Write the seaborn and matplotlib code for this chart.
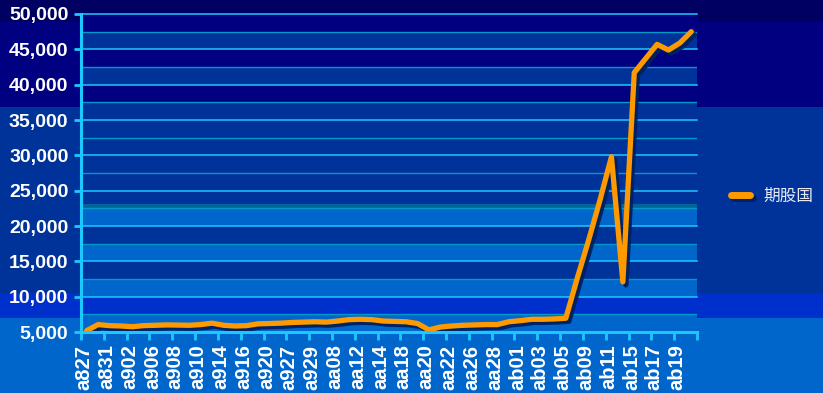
import numpy as np
import pandas as pd
import matplotlib
matplotlib.use("Agg")
import matplotlib.pyplot as plt
import matplotlib.patheffects as pe
from matplotlib.patches import Rectangle
from matplotlib.ticker import FuncFormatter, FixedLocator
import seaborn as sns

# ---------------- data ----------------
dates = ["a827", "a830", "a831", "a901", "a902", "a903", "a906", "a907", "a908", "a909",
         "a910", "a913", "a914", "a915", "a916", "a917", "a920", "a921", "a927", "a928",
         "a929", "a930", "aa08", "aa11", "aa12", "aa13", "aa14", "aa15", "aa18", "aa19",
         "aa20", "aa21", "aa22", "aa25", "aa26", "aa27", "aa28", "aa29", "ab01", "ab02",
         "ab03", "ab04", "ab05", "ab08", "ab09", "ab10", "ab11", "ab12", "ab15", "ab16",
         "ab17", "ab18", "ab19", "ab22"]
values = [5200, 6050, 5900, 5850, 5750, 5900, 5950, 6000, 5980, 5950,
          6050, 6250, 5950, 5850, 5900, 6150, 6200, 6250, 6350, 6400,
          6450, 6400, 6550, 6750, 6800, 6750, 6550, 6500, 6450, 6200,
          5300, 5700, 5850, 5950, 6000, 6050, 6050, 6450, 6600, 6800,
          6800, 6850, 6950, 12600, 18000, 23700, 29800, 12100, 41700, 43700,
          45700, 44900, 45900, 47500]
series_name = "期股国"
y_ticks = [5000, 10000, 15000, 20000, 25000, 30000, 35000, 40000, 45000, 50000]
x_labels = dates[::2]

df = pd.DataFrame({"idx": np.arange(len(dates)), "date": dates, "value": values})

# ---------------- figure ----------------
W, H = 823, 393
fig = plt.figure(figsize=(W / 100, H / 100), dpi=100)
fig.patch.set_facecolor("#0066CC")

# stepped background (pixel rows from top)
bg = [(0, 22, "#000062"), (22, 107, "#000080"), (107, 293, "#003399"),
      (293, 318, "#0030CC"), (318, 393, "#0066CC")]
for top, bot, col in bg:
    fig.patches.append(Rectangle((0, 1 - bot / H), 1, (bot - top) / H,
                                 transform=fig.transFigure, color=col, zorder=-10, lw=0))

left, right, top, bottom = 81, 697, 14, 332
ax = fig.add_axes([left / W, 1 - bottom / H, (right - left) / W, (bottom - top) / H])
ax.set_facecolor("none")

ax.set_xlim(-0.5, len(dates) - 0.5)
ax.set_ylim(5000, 50000)

# plot-area bands
band_cols = {5000: "#0066CC", 7500: "#0030CC", 10000: "#0066CC", 12500: "#003399",
             15000: "#0066CC", 17500: "#003399", 20000: "#0066CC", 22500: "#003399",
             25000: "#003399", 27500: "#003399", 30000: "#003399", 32500: "#003399",
             35000: "#003399", 37500: "#000080", 40000: "#003399", 42500: "#000080",
             45000: "#003399", 47500: "#000080"}
for y0, c in band_cols.items():
    ax.axhspan(y0, y0 + 2500, color=c, lw=0, zorder=0)
ax.axhspan(22500, 23100, color="#006699", lw=0, zorder=0.5)

for y in range(7500, 50000, 5000):
    ax.axhline(y, color="#0099CC", lw=1.0, zorder=1)
for y in y_ticks:
    ax.axhline(y, color="#1CC8FF", lw=1.1, zorder=1, clip_on=False)

# line with shadow
sns.lineplot(data=df, x="idx", y="value", ax=ax, color="#FF9900", lw=3.8,
             sort=False, label=series_name, zorder=5)
line = ax.get_lines()[-1]
line.set_solid_capstyle("round")
line.set_solid_joinstyle("round")
shadow = [pe.SimpleLineShadow(offset=(2.2, -2.2), shadow_color="#00205F", alpha=0.95),
          pe.Normal()]
line.set_path_effects(shadow)

# axes styling
for s in ["top", "right"]:
    ax.spines[s].set_visible(False)
for s in ["left", "bottom"]:
    ax.spines[s].set_color("#1CC8FF")
    ax.spines[s].set_linewidth(2.2)
    ax.spines[s].set_zorder(6)

ax.set_xlabel("")
ax.set_ylabel("")

ax.yaxis.set_major_locator(FixedLocator(y_ticks))
ax.yaxis.set_major_formatter(FuncFormatter(lambda v, p: f"{int(v):,}"))
ax.tick_params(axis="y", length=5, width=2, color="#1CC8FF", pad=4,
               labelsize=14, labelcolor="white")

label_pos = [2 * k - 0.24 for k in range(len(x_labels))]
ax.set_xticks(label_pos)
ax.set_xticklabels(x_labels, rotation=90)
ax.set_xticks([2 * k - 0.5 for k in range(len(x_labels) + 1)], minor=True)
ax.tick_params(axis="x", which="major", length=0, pad=9, labelsize=14.5, labelcolor="white")
ax.tick_params(axis="x", which="minor", length=6, width=2, color="#1CC8FF")

for lab in ax.get_xticklabels() + ax.get_yticklabels():
    lab.set_fontfamily(["Liberation Sans", "DejaVu Sans"])
    lab.set_fontweight("bold")

# legend
leg = ax.legend(loc="center left", bbox_to_anchor=(731 / W, 1 - 196 / H),
                bbox_transform=fig.transFigure, frameon=False, handlelength=1.15,
                handletextpad=0.8, borderpad=0, borderaxespad=0,
                prop={"family": ["Noto Sans CJK SC", "DejaVu Sans"], "size": 12})
for t in leg.get_texts():
    t.set_color("#E8E8F4")
for l in leg.get_lines():
    l.set_linewidth(5)
    l.set_solid_capstyle("round")
    l.set_path_effects(shadow)

fig.savefig("out.png", dpi=100, facecolor=fig.get_facecolor())
